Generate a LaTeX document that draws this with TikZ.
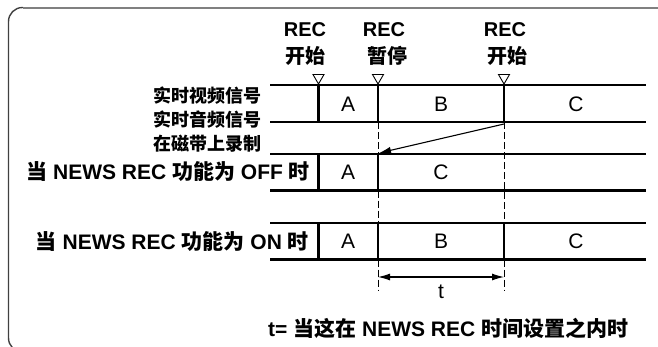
\documentclass[tikz,border=0pt]{standalone}
\usepackage{fontspec}
\setmainfont{Liberation Sans}
\newfontfamily\cjk{Noto Sans CJK SC}
\usetikzlibrary{arrows.meta}
\newcommand\zh[1]{{\cjk #1}}
\begin{document}
\begin{tikzpicture}[x=1pt,y=-1pt,
  lbl/.style={font=\fontsize{20}{22}\selectfont\bfseries, inner sep=0},
  sig/.style={font=\fontsize{18}{20}\selectfont\bfseries, inner sep=0, anchor=east},
  cond/.style={font=\fontsize{21}{24}\selectfont\bfseries, inner sep=0},
  seg/.style={font=\fontsize{21}{24}\selectfont, inner sep=0},
  bar/.style={line width=2.2pt},
  guide/.style={line width=1pt, dash pattern=on 7pt off 3pt},
  trimark/.style={draw, line width=0.9pt, fill=white, line join=miter},
  tip/.style={-{Latex[length=12pt,width=7pt]}, line width=1.1pt},
  dtip/.style={{Latex[length=12pt,width=7pt]}-{Latex[length=12pt,width=7pt]}, line width=1.1pt}]
\useasboundingbox (0,0) rectangle (658,346);
% frame
\begin{scope}
\clip (0,0) rectangle (658,346);
\draw[line width=1.4pt, black!75, rounded corners=14] (23,7.5) -- (8.5,7.5) -- (8.5,352) -- (23,352);
\draw[line width=2pt, black!50] (660,7.5) -- (22.5,7.5);
\end{scope}
% grid coordinates
\def\xa{270}\def\xb{318.5}\def\xc{378}\def\xd{504}\def\xe{646}
\def\ya{85}\def\yb{122}\def\yc{154}\def\yd{190.5}\def\ye{223}\def\yf{259.5}
% horizontal bars
\draw[bar] (\xa,\ya) -- (\xe,\ya);
\draw[bar] (\xa,\yb) -- (\xe,\yb);
\draw[bar] (\xa,\yc) -- (\xe,\yc);
\draw[bar] (\xa,\yd) -- (\xe,\yd);
\draw[bar] (\xa,\ye) -- (\xe,\ye);
\draw[bar] (\xa,\yf) -- (\xe,\yf);
% verticals
\draw[bar] (\xb,\ya) -- (\xb,\yb);
\draw[bar] (\xc,\ya) -- (\xc,\yb);
\draw[bar] (\xd,\ya) -- (\xd,\yb);
\draw[bar] (\xb,\yc) -- (\xb,\yd);
\draw[bar] (\xc,\yc) -- (\xc,\yd);
\draw[bar] (\xb,\ye) -- (\xb,\yf);
\draw[bar] (\xc,\ye) -- (\xc,\yf);
\draw[bar] (\xd,\ye) -- (\xd,\yf);
% dashed guides
\draw[guide] (\xc,\yb) -- (\xc,\yc);
\draw[guide] (\xc,\yd) -- (\xc,\ye);
\draw[guide] (\xc,\yf) -- (\xc,290);
\draw[guide] (\xd,\yb) -- (\xd,\ye);
\draw[guide] (\xd,\yf) -- (\xd,290);
% triangles
\foreach \x in {\xb,\xc,\xd}
  \draw[trimark] (\x,\ya-1) -- ++(-5.5,-9.5) -- ++(11,0) -- cycle;
% top labels
\node[lbl] (rec1) at (305,30) {REC};
\node[lbl] (st1) at (305,56) {\zh{开始}};
\node[lbl] (rec2) at (384,30) {REC};
\node[lbl] (ps2) at (387,56) {\zh{暂停}};
\node[lbl] (rec3) at (505,30) {REC};
\node[lbl] (st3) at (507,56) {\zh{开始}};
% left labels
\node[sig] (vid) at (262,95.5) {\zh{实时视频信号}};
\node[sig] (aud) at (262,119.5) {\zh{实时音频信号}};
\node[sig] (tape) at (262,144) {\zh{在磁带上录制}};
\node[cond, anchor=east] (off) at (310,172) {\zh{当} NEWS REC \zh{功能为} OFF \zh{时}};
\node[cond, anchor=east] (on) at (309,242) {\zh{当} NEWS REC \zh{功能为} ON \zh{时}};
% segment letters
\node[seg] (a1) at (348,104) {A};
\node[seg] (b1) at (441,104) {B};
\node[seg] (c1) at (576,104) {C};
\node[seg] (a2) at (348,172.5) {A};
\node[seg] (c2) at (441,172.5) {C};
\node[seg] (a3) at (348,241.5) {A};
\node[seg] (b3) at (441,241.5) {B};
\node[seg] (c3) at (576,241.5) {C};
% arrows
\coordinate (from) at (\xd,\yb+2);
\coordinate (to) at (\xc+1,\yc-1);
\draw[tip] (from) -- (to);
\coordinate (tl) at (\xc,277);
\coordinate (tr) at (\xd,277);
\draw[dtip] (tl) -- (tr);
\node[seg] (t) at (441,292) {t};
\node[cond, anchor=west] (note) at (268,328) {t= \zh{当这在} NEWS REC \zh{时间设置之内时}};
\end{tikzpicture}
\end{document}
